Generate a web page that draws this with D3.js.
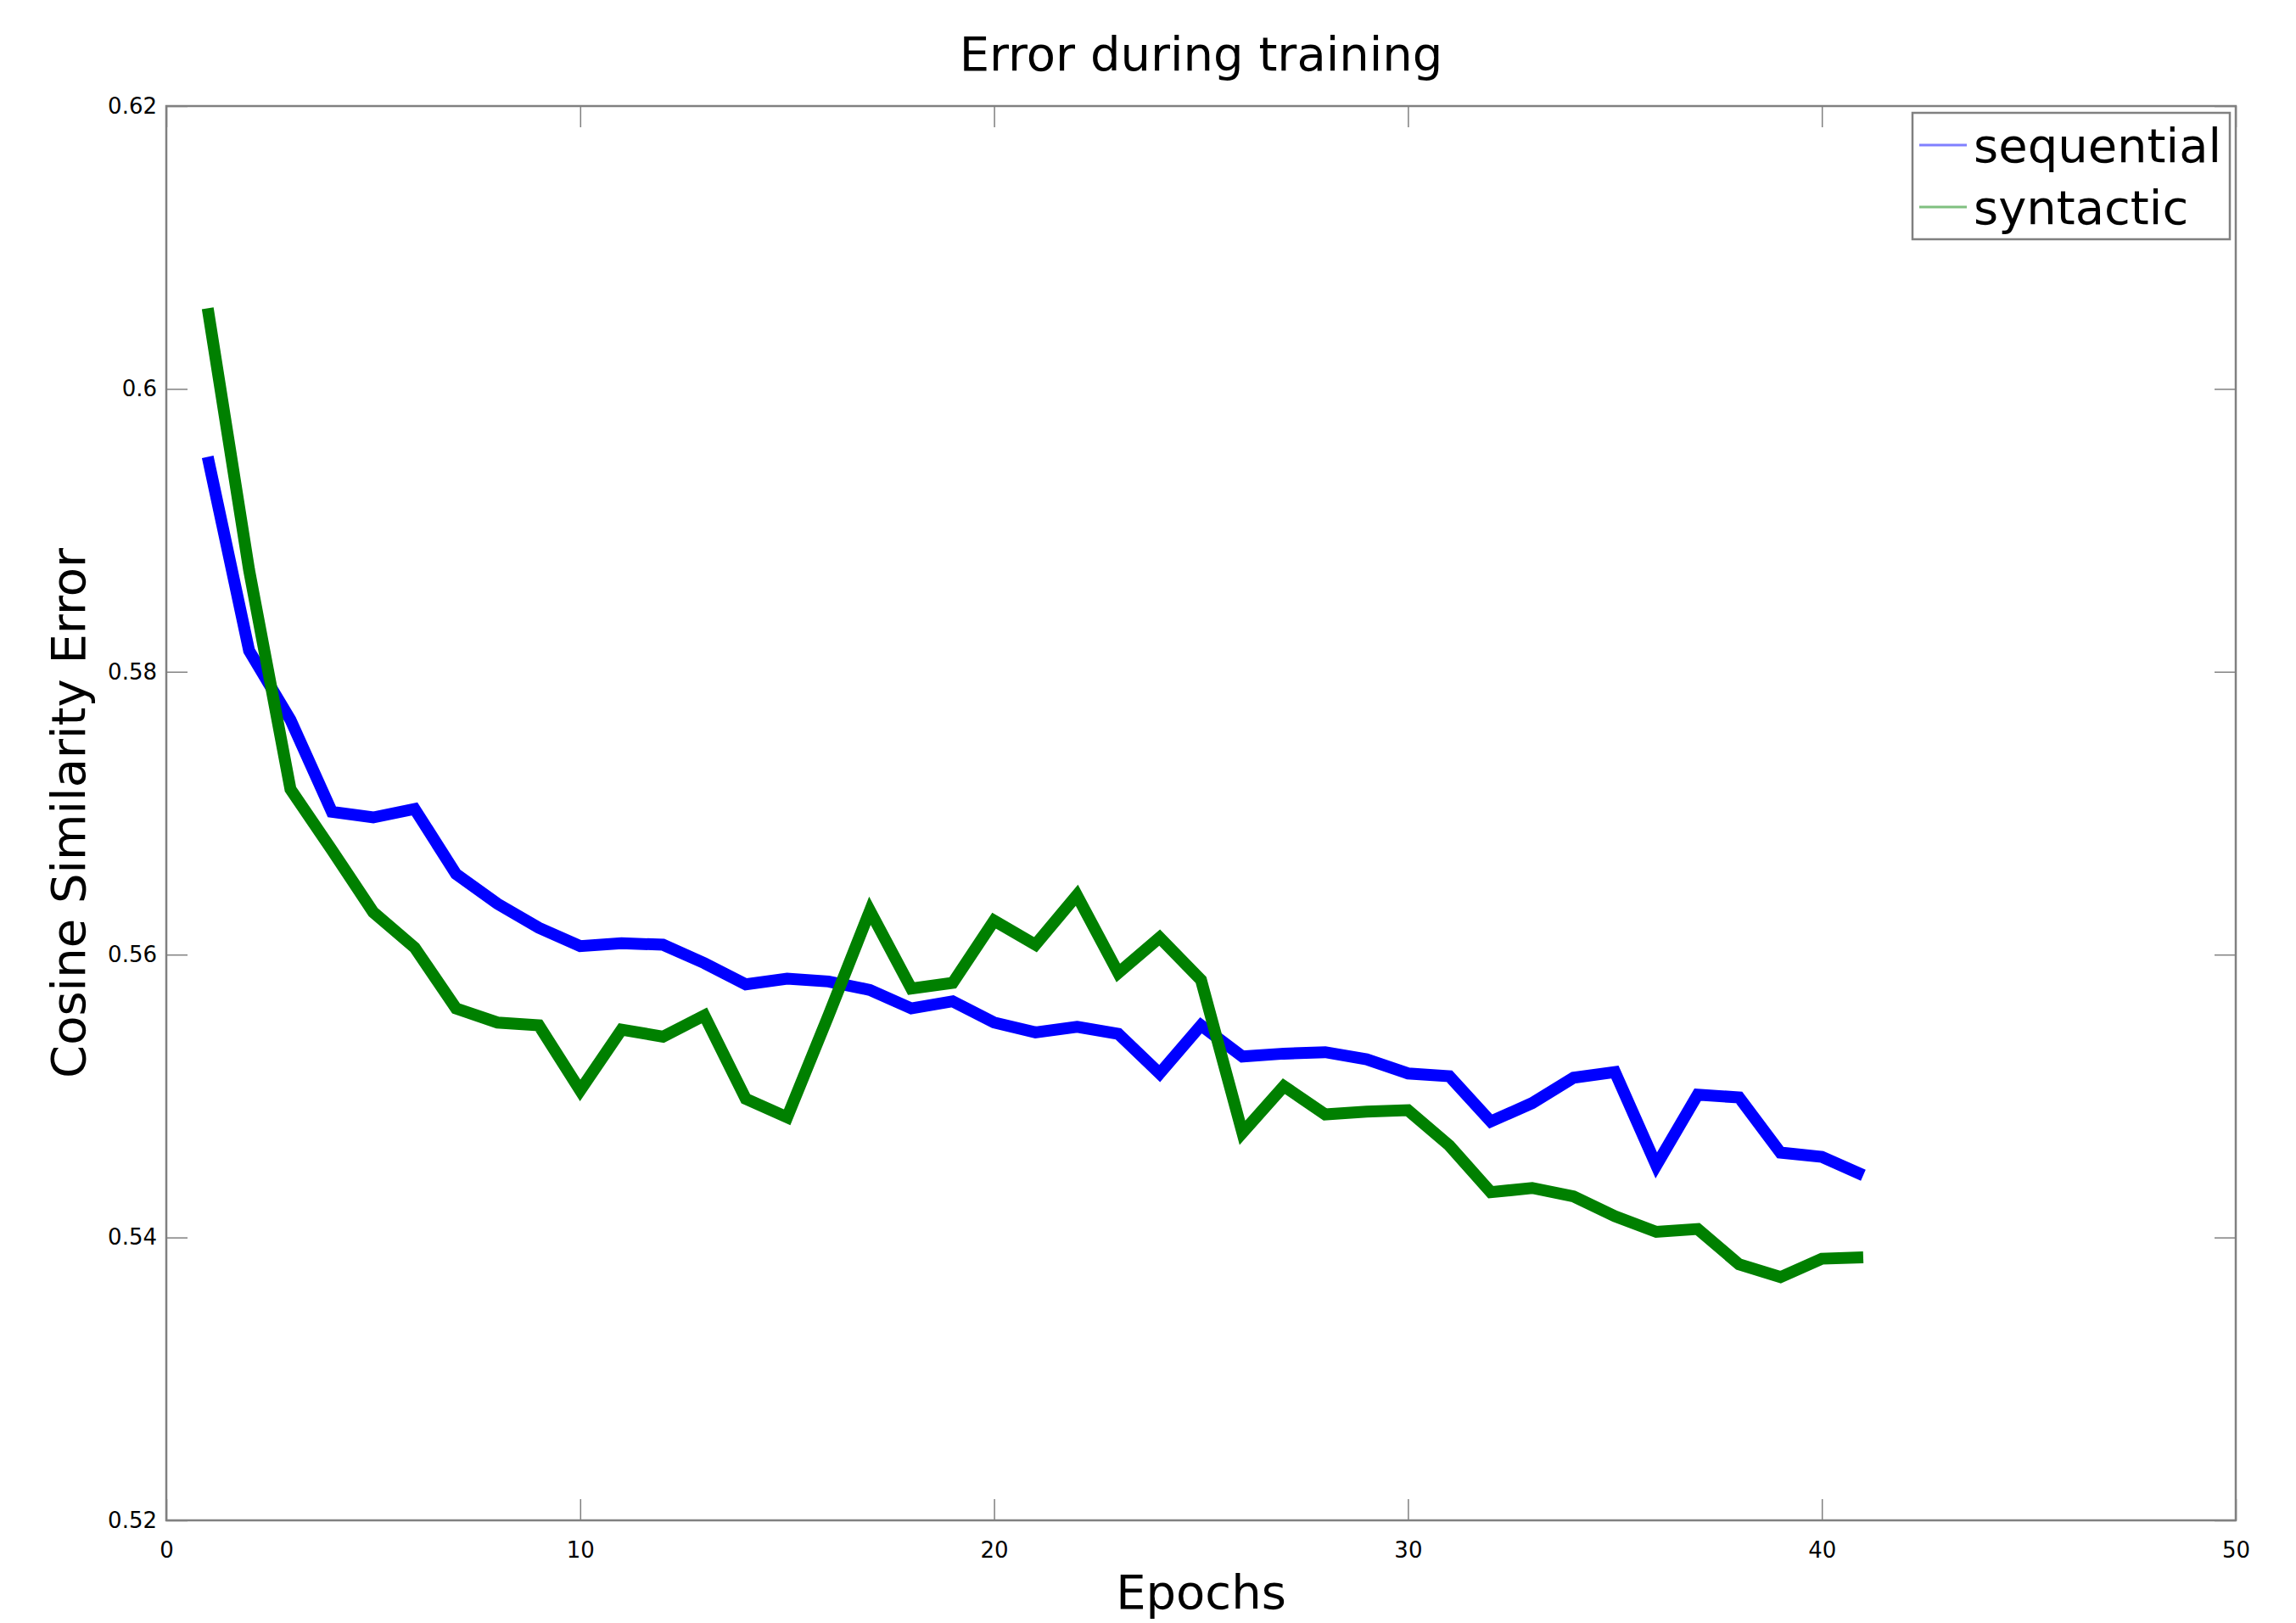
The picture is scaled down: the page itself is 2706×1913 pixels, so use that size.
<!DOCTYPE html>
<html>
<head>
<meta charset="utf-8">
<script src="https://cdn.jsdelivr.net/npm/d3@7"></script>
<style>
  body { margin: 0; background: #fff; }
  text { font-family: "DejaVu Sans", sans-serif; fill: #000; }
</style>
</head>
<body>
<div id="chart"></div>
<script>
// epochs on the x axis
var epochs = d3.range(1, 42);

// cosine similarity error per epoch
var sequential = [0.5952, 0.5815, 0.5766, 0.5701, 0.5697, 0.5703, 0.5657, 0.5636, 0.5619, 0.5606,
  0.5608, 0.5607, 0.5594, 0.5579, 0.5583, 0.5581, 0.5575, 0.5562, 0.5567, 0.5552,
  0.5545, 0.5549, 0.5544, 0.5516, 0.5550, 0.5528, 0.5530, 0.5531, 0.5526, 0.5516,
  0.5514, 0.5482, 0.5495, 0.5513, 0.5517, 0.5451, 0.5501, 0.5499, 0.5460, 0.5457, 0.5444];

var syntactic = [0.6057, 0.5872, 0.5717, 0.5674, 0.5630, 0.5605, 0.5562, 0.5552, 0.5550, 0.5504,
  0.5547, 0.5542, 0.5557, 0.5498, 0.5485, 0.5557, 0.5631, 0.5576, 0.5580, 0.5624,
  0.5607, 0.5642, 0.5587, 0.5612, 0.5582, 0.5474, 0.5507, 0.5487, 0.5489, 0.5490,
  0.5465, 0.5432, 0.5435, 0.5429, 0.5415, 0.5404, 0.5406, 0.5381, 0.5372, 0.5385, 0.5386];

var xTicks = [0, 10, 20, 30, 40, 50];
var yTicks = [0.52, 0.54, 0.56, 0.58, 0.6, 0.62];
var seriesNames = ["sequential", "syntactic"];
var seriesColors = ["#0000ff", "#008000"];
var legendColors = ["#8080ff", "#80c080"];

var W = 2706, H = 1913;
var margin = {top: 125, right: 71, bottom: 121, left: 196};
var width = W - margin.left - margin.right,
    height = H - margin.top - margin.bottom;

var svg = d3.select("#chart")
  .append("svg")
  .attr("width", W)
  .attr("height", H);

var g = svg.append("g")
  .attr("transform", "translate(" + margin.left + "," + margin.top + ")");

var x = d3.scaleLinear().domain([0, 50]).range([0, width]);
var y = d3.scaleLinear().domain([0.52, 0.62]).range([height, 0]);

var axisColor = "#808080";

// axes with inward ticks on all four sides
function styleAxis(sel) {
  sel.select(".domain").remove();
  sel.selectAll(".tick line").attr("stroke", axisColor).attr("stroke-width", 1.5);
  sel.selectAll(".tick text")
    .attr("font-size", 26)
    .attr("font-family", "DejaVu Sans")
    .attr("fill", "#000");
}

g.append("g")
  .attr("transform", "translate(0," + height + ")")
  .call(d3.axisBottom(x).tickValues(xTicks).tickSize(-25).tickPadding(26).tickFormat(d3.format("d")))
  .call(styleAxis);

g.append("g")
  .call(d3.axisTop(x).tickValues(xTicks).tickSize(-25).tickFormat(""))
  .call(styleAxis);

g.append("g")
  .call(d3.axisLeft(y).tickValues(yTicks).tickSize(-25).tickPadding(11).tickFormat(function(d){ return String(+d.toFixed(2)); }))
  .call(styleAxis);

g.append("g")
  .attr("transform", "translate(" + width + ",0)")
  .call(d3.axisRight(y).tickValues(yTicks).tickSize(-25).tickFormat(""))
  .call(styleAxis);

// frame
g.append("rect")
  .attr("x", 0).attr("y", 0)
  .attr("width", width).attr("height", height)
  .attr("fill", "none")
  .attr("stroke", axisColor)
  .attr("stroke-width", 2.5);

// lines
var line = d3.line()
  .x(function(d){ return x(d[0]); })
  .y(function(d){ return y(d[1]); });

[sequential, syntactic].forEach(function(vals, i) {
  g.append("path")
    .datum(epochs.map(function(e, j){ return [e, vals[j]]; }))
    .attr("fill", "none")
    .attr("stroke", seriesColors[i])
    .attr("stroke-width", 14)
    .attr("stroke-linejoin", "miter")
    .attr("stroke-linecap", "butt")
    .attr("d", line);
});

// title and axis labels
svg.append("text")
  .attr("x", margin.left + width / 2)
  .attr("y", 83)
  .attr("text-anchor", "middle")
  .attr("font-size", 56)
  .text("Error during training");

svg.append("text")
  .attr("x", margin.left + width / 2)
  .attr("y", 1896)
  .attr("text-anchor", "middle")
  .attr("font-size", 56)
  .text("Epochs");

svg.append("text")
  .attr("transform", "translate(100," + (margin.top + height / 2) + ") rotate(-90)")
  .attr("text-anchor", "middle")
  .attr("font-size", 56)
  .text("Cosine Similarity Error");

// legend
var legend = svg.append("g").attr("transform", "translate(2254,133)");
legend.append("rect")
  .attr("width", 374).attr("height", 149)
  .attr("fill", "#fff")
  .attr("stroke", axisColor)
  .attr("stroke-width", 2.5);

seriesNames.forEach(function(name, i) {
  var by = 58 + i * 73;
  legend.append("line")
    .attr("x1", 8).attr("x2", 64)
    .attr("y1", by - 20).attr("y2", by - 20)
    .attr("stroke", legendColors[i])
    .attr("stroke-width", 3);
  legend.append("text")
    .attr("x", 72).attr("y", by)
    .attr("font-size", 56)
    .text(name);
});
</script>
</body>
</html>
